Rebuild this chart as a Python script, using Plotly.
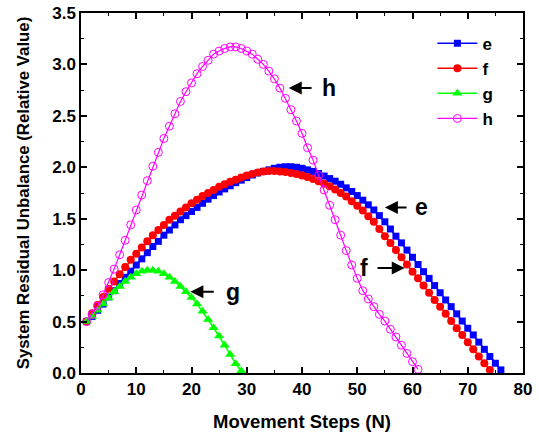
import plotly.graph_objects as go

# ---------------- data ----------------
steps_e = list(range(1, 77))
e_vals = [0.50, 0.55, 0.61, 0.67, 0.74, 0.80, 0.87, 0.93, 0.99, 1.05,
          1.11, 1.17, 1.23, 1.28, 1.34, 1.39, 1.44, 1.49, 1.53, 1.57,
          1.61, 1.65, 1.69, 1.725, 1.76, 1.79, 1.82, 1.85, 1.875, 1.90,
          1.925, 1.945, 1.96, 1.975, 1.99, 2.0, 2.005, 2.005, 2.0, 1.99,
          1.975, 1.96, 1.94, 1.915, 1.89, 1.865, 1.835, 1.80, 1.765, 1.725,
          1.68, 1.635, 1.585, 1.53, 1.47, 1.40, 1.33, 1.265, 1.195, 1.125,
          1.055, 0.985, 0.92, 0.85, 0.78, 0.71, 0.645, 0.575, 0.505, 0.435,
          0.37, 0.30, 0.23, 0.16, 0.095, 0.03]

steps_f = list(range(1, 75))
f_vals = [0.50, 0.58, 0.66, 0.74, 0.82, 0.89, 0.96, 1.03, 1.10, 1.16,
          1.22, 1.28, 1.34, 1.39, 1.44, 1.49, 1.53, 1.57, 1.61, 1.65,
          1.685, 1.72, 1.75, 1.78, 1.81, 1.835, 1.86, 1.88, 1.90, 1.92,
          1.935, 1.95, 1.96, 1.965, 1.965, 1.96, 1.955, 1.945, 1.935, 1.92,
          1.905, 1.885, 1.865, 1.84, 1.815, 1.785, 1.75, 1.715, 1.67, 1.625,
          1.58, 1.525, 1.47, 1.40, 1.33, 1.265, 1.195, 1.125, 1.055, 0.985,
          0.92, 0.85, 0.78, 0.71, 0.645, 0.575, 0.505, 0.435, 0.37, 0.30,
          0.23, 0.16, 0.095, 0.03]

steps_g = list(range(1, 30))
g_vals = [0.50, 0.55, 0.61, 0.67, 0.73, 0.79, 0.84, 0.89, 0.93, 0.965,
          0.99, 1.0, 1.0, 0.99, 0.965, 0.93, 0.89, 0.84, 0.79, 0.735,
          0.67, 0.60, 0.52, 0.44, 0.36, 0.27, 0.18, 0.09, 0.02]

steps_h = list(range(1, 62))
h_vals = [0.50, 0.57, 0.65, 0.76, 0.88, 1.01, 1.15, 1.29, 1.44, 1.585,
          1.73, 1.87, 2.01, 2.145, 2.28, 2.40, 2.52, 2.64, 2.735, 2.82,
          2.91, 2.98, 3.04, 3.10, 3.13, 3.155, 3.17, 3.17, 3.155, 3.13,
          3.10, 3.05, 3.00, 2.935, 2.86, 2.77, 2.67, 2.56, 2.45, 2.33,
          2.19, 2.07, 1.92, 1.78, 1.63, 1.49, 1.34, 1.19, 1.05, 0.92,
          0.80, 0.72, 0.645, 0.57, 0.505, 0.425, 0.35, 0.27, 0.19, 0.11,
          0.035]

x_ticks = [0, 10, 20, 30, 40, 50, 60, 70, 80]
y_ticks = [0.0, 0.5, 1.0, 1.5, 2.0, 2.5, 3.0, 3.5]

# annotation labels: (label, text x, text y, arrow tip x, arrow tail x)
labels = [("h", 44.8, 2.77, 37.6, 42.0),
          ("e", 61.6, 1.61, 55.0, 59.2),
          ("f", 51.3, 1.02, 58.6, 53.4),
          ("g", 27.5, 0.79, 19.8, 24.3)]

FONT = "Arial, Liberation Sans, Helvetica, sans-serif"

fig = go.Figure()
fig.add_trace(go.Scatter(x=steps_e, y=e_vals, name="<b>e</b>", mode="lines+markers",
                         line=dict(color="#0000ff", width=1.5),
                         marker=dict(symbol="square", size=7, color="#0000ff")))
fig.add_trace(go.Scatter(x=steps_f, y=f_vals, name="<b>f</b>", mode="lines+markers",
                         line=dict(color="#ff0000", width=1.5),
                         marker=dict(symbol="circle", size=8, color="#ff0000")))
fig.add_trace(go.Scatter(x=steps_g, y=g_vals, name="<b>g</b>", mode="lines+markers",
                         line=dict(color="#00ff00", width=1.5),
                         marker=dict(symbol="triangle-up", size=9, color="#00ff00")))
fig.add_trace(go.Scatter(x=steps_h, y=h_vals, name="<b>h</b>", mode="lines+markers",
                         line=dict(color="#ff00ff", width=1.2),
                         marker=dict(symbol="circle-open", size=8, color="#ff00ff",
                                     line=dict(width=1, color="#ff00ff"))))

for lab, tx, ty, tip, tail in labels:
    fig.add_annotation(x=tip, y=ty, ax=tail, ay=ty, xref="x", yref="y",
                       axref="x", ayref="y", text="", showarrow=True,
                       arrowhead=2, arrowsize=1.3, arrowwidth=2, arrowcolor="black")
    fig.add_annotation(x=tx, y=ty, xref="x", yref="y", text="<b>%s</b>" % lab,
                       showarrow=False, font=dict(family=FONT, size=23, color="black"))

axis_common = dict(showline=True, linecolor="black", linewidth=1.5, mirror="ticks",
                   ticks="inside", ticklen=6, tickwidth=1.5, tickcolor="black",
                   showgrid=False, zeroline=False, automargin=False,
                   tickfont=dict(family=FONT, size=17, color="black"))

fig.update_xaxes(range=[0, 80], tickmode="array", tickvals=x_ticks,
                 ticktext=["<b>%d</b>" % v for v in x_ticks],
                 minor=dict(ticks="inside", ticklen=3, tickwidth=1, tickcolor="black", dtick=5, tick0=0),
                 title=dict(text="<b>Movement Steps (N)</b>", font=dict(family=FONT, size=18.5, color="black"),
                            standoff=17),
                 **axis_common)
fig.update_yaxes(range=[0, 3.5], tickmode="array", tickvals=y_ticks,
                 ticktext=["<b>%.1f</b>" % v for v in y_ticks],
                 minor=dict(ticks="inside", ticklen=3, tickwidth=1, tickcolor="black", dtick=0.25, tick0=0),
                 title=dict(text="<b>System Residual Unbalance (Relative Value)</b>",
                            font=dict(family=FONT, size=16.8, color="black"), standoff=18),
                 **axis_common)

fig.update_layout(width=539, height=432, margin=dict(l=81, r=16, t=13, b=59),
                  plot_bgcolor="white", paper_bgcolor="white",
                  font=dict(family=FONT, color="black"),
                  legend=dict(x=0.795, y=0.965, xanchor="left", yanchor="top",
                              bgcolor="rgba(0,0,0,0)", borderwidth=0,
                              font=dict(family=FONT, size=17, color="black"),
                              itemwidth=40))

fig.write_html("out.html", config={"displayModeBar": False},
               post_script="document.body.style.margin='0';document.body.style.padding='0';")
